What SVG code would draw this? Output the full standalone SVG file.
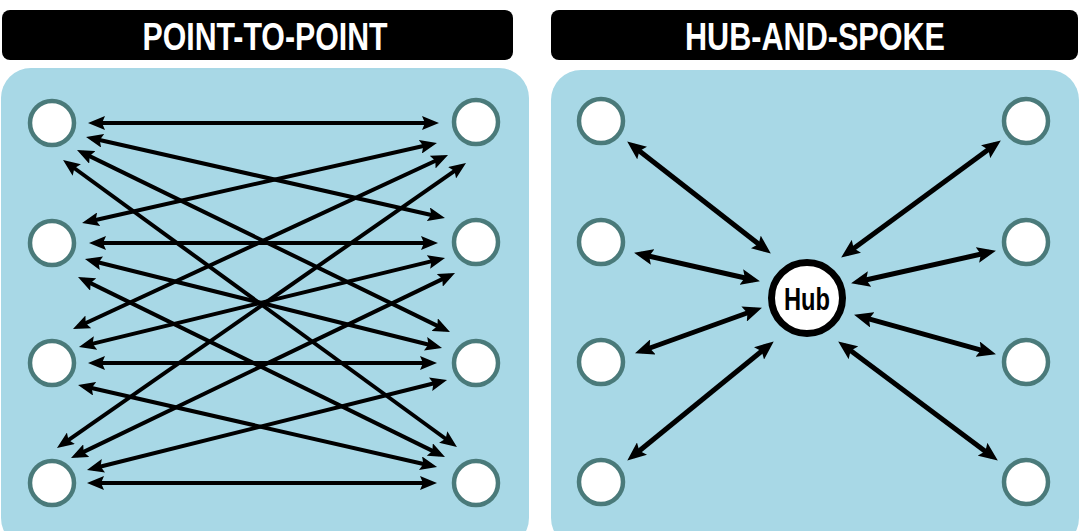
<svg xmlns="http://www.w3.org/2000/svg" width="1080" height="531" viewBox="0 0 1080 531">
<defs>
<style>
.bar{fill:#000}
.title{fill:#fff;font-family:"Liberation Sans",Arial,sans-serif;font-weight:bold;font-size:39px;text-anchor:middle}
.panel{fill:#a8d8e6}
.node{fill:#fff;stroke:#4a7a7a;stroke-width:4.5}
.p2p line{stroke:#000;stroke-width:4;fill:none;marker-start:url(#ah);marker-end:url(#ah)}
.hs line{stroke:#000;stroke-width:5;fill:none;marker-start:url(#ah2);marker-end:url(#ah2)}
.hubtxt{fill:#000;font-family:"Liberation Sans",Arial,sans-serif;font-weight:bold;font-size:31px;text-anchor:middle}
</style>
<marker id="ah" markerUnits="userSpaceOnUse" markerWidth="17" markerHeight="14" refX="11" refY="7" orient="auto-start-reverse" viewBox="0 0 17 14">
<path d="M0,0 L17,7 L0,14 L3,7 z" fill="#000"/>
</marker>
<marker id="ah2" markerUnits="userSpaceOnUse" markerWidth="19" markerHeight="16" refX="12" refY="8" orient="auto-start-reverse" viewBox="0 0 19 16">
<path d="M0,0 L19,8 L0,16 L3.5,8 z" fill="#000"/>
</marker>
</defs>
<rect width="1080" height="531" fill="#fff"/>
<g id="header-left">
<rect class="bar" x="2" y="10" width="511" height="50" rx="8"/>
<text class="title" x="265" y="49.5" textLength="245" lengthAdjust="spacingAndGlyphs">POINT-TO-POINT</text>
</g>
<g id="header-right">
<rect class="bar" x="551" y="10" width="527" height="50" rx="8"/>
<text class="title" x="815" y="49.5" textLength="260" lengthAdjust="spacingAndGlyphs">HUB-AND-SPOKE</text>
</g>
<g id="panel-left"><rect class="panel" x="1" y="68" width="528" height="480" rx="30"/></g>
<g id="panel-right"><rect class="panel" x="551" y="70" width="528" height="478" rx="30"/></g>
<g id="connectors-p2p" class="p2p">
<line x1="94" y1="123" x2="433" y2="123"/>
<line x1="91.9" y1="138.3" x2="439.1" y2="216.7"/>
<line x1="82.4" y1="152.6" x2="444.6" y2="329.4"/>
<line x1="67.9" y1="163.5" x2="452.1" y2="443.5"/>
<line x1="87.9" y1="221.7" x2="431.1" y2="144.3"/>
<line x1="95" y1="243" x2="432" y2="243"/>
<line x1="90.8" y1="260.5" x2="436.2" y2="346.5"/>
<line x1="83.4" y1="279.6" x2="439.6" y2="454.4"/>
<line x1="78.4" y1="326.5" x2="442.6" y2="157.5"/>
<line x1="84.8" y1="345.6" x2="439.2" y2="259.4"/>
<line x1="94" y1="363" x2="431" y2="363"/>
<line x1="83.9" y1="386.3" x2="431.2" y2="465.7"/>
<line x1="61.9" y1="444.6" x2="461.1" y2="166.4"/>
<line x1="76.4" y1="455.4" x2="449.6" y2="275.6"/>
<line x1="92.8" y1="468.5" x2="441.2" y2="381.5"/>
<line x1="93" y1="483" x2="431" y2="483"/>
</g>
<g id="connectors-hub" class="hs">
<line x1="632.7" y1="145.7" x2="765.3" y2="249.3"/>
<line x1="640.9" y1="254.3" x2="753.1" y2="279.7"/>
<line x1="641.6" y1="351" x2="755.4" y2="310"/>
<line x1="632.7" y1="456.2" x2="768.3" y2="345.8"/>
<line x1="995.2" y1="144.6" x2="846.8" y2="253.4"/>
<line x1="989.1" y1="252.3" x2="857.9" y2="281.7"/>
<line x1="989.2" y1="352.4" x2="860.8" y2="316.6"/>
<line x1="992.2" y1="456.4" x2="843.8" y2="345.6"/>
</g>
<g id="p2p-left-1"><circle class="node" cx="52" cy="123" r="22"/></g>
<g id="p2p-left-2"><circle class="node" cx="52" cy="243" r="22"/></g>
<g id="p2p-left-3"><circle class="node" cx="52" cy="363" r="22"/></g>
<g id="p2p-left-4"><circle class="node" cx="52" cy="483" r="22"/></g>
<g id="p2p-right-1"><circle class="node" cx="476" cy="122" r="22"/></g>
<g id="p2p-right-2"><circle class="node" cx="476" cy="242" r="22"/></g>
<g id="p2p-right-3"><circle class="node" cx="476" cy="363" r="22"/></g>
<g id="p2p-right-4"><circle class="node" cx="476" cy="483" r="22"/></g>
<g id="hs-left-1"><circle class="node" cx="601" cy="121" r="22"/></g>
<g id="hs-left-2"><circle class="node" cx="601" cy="242" r="22"/></g>
<g id="hs-left-3"><circle class="node" cx="601" cy="362" r="22"/></g>
<g id="hs-left-4"><circle class="node" cx="601" cy="482" r="22"/></g>
<g id="hs-right-1"><circle class="node" cx="1026" cy="121" r="22"/></g>
<g id="hs-right-2"><circle class="node" cx="1026" cy="242" r="22"/></g>
<g id="hs-right-3"><circle class="node" cx="1026" cy="362" r="22"/></g>
<g id="hs-right-4"><circle class="node" cx="1026" cy="482" r="22"/></g>
<g id="hub">
<circle cx="807" cy="298" r="35.5" fill="#fff" stroke="#000" stroke-width="7"/>
<text class="hubtxt" x="807" y="310" textLength="46" lengthAdjust="spacingAndGlyphs">Hub</text>
</g>
</svg>
